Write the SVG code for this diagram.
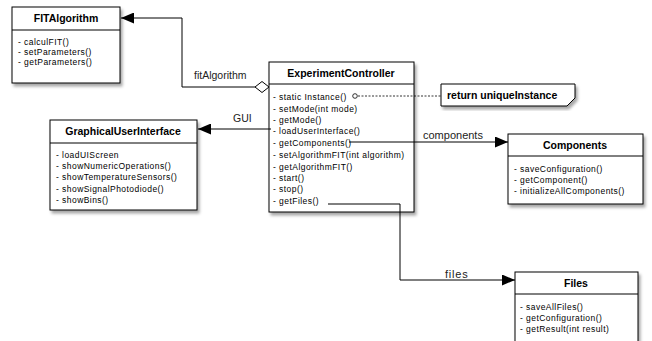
<svg xmlns="http://www.w3.org/2000/svg" width="652" height="341" viewBox="0 0 652 341">
<style>
.box{fill:#fff;stroke:#000;stroke-width:1;filter:url(#sh)}
.div{stroke:#000;stroke-width:1}
.title{font-family:"Liberation Sans",Arial,sans-serif;font-weight:bold;font-size:10.5px;fill:#000;text-anchor:middle}
.item{font-family:"Liberation Sans",Arial,sans-serif;font-size:8.5px;fill:#000;letter-spacing:0.45px}
.lbl{font-family:"Liberation Sans",Arial,sans-serif;font-size:11px;fill:#222}
.conn{fill:none;stroke:#000;stroke-width:1}
</style>
<defs>
<filter id="sh" x="-10%" y="-10%" width="130%" height="130%">
<feDropShadow dx="2" dy="3" stdDeviation="1.8" flood-color="#000" flood-opacity="0.35"/>
</filter>
<marker id="arr" markerWidth="13" markerHeight="11" refX="13" refY="5.5" orient="auto" markerUnits="userSpaceOnUse">
<path d="M0,0 L13,5.5 L0,11 Z" fill="#000"/>
</marker>
</defs>
<rect width="652" height="341" fill="#fff"/>

<g id="FITAlgorithm">
<rect class="box" x="12" y="7" width="108" height="76"/>
<line class="div" x1="12" y1="30" x2="120" y2="30"/>
<text class="title" x="66" y="22">FITAlgorithm</text>
<text class="item" x="18" y="45">- calculFIT()</text>
<text class="item" x="18" y="55">- setParameters()</text>
<text class="item" x="18" y="65">- getParameters()</text>
</g>

<g id="ExperimentController">
<rect class="box" x="269" y="62" width="145" height="150"/>
<line class="div" x1="269" y1="84" x2="414" y2="84"/>
<text class="title" x="341" y="77">ExperimentController</text>
<text class="item" x="273" y="100">- static Instance()</text>
<text class="item" x="273" y="112">- setMode(int mode)</text>
<text class="item" x="273" y="123">- getMode()</text>
<text class="item" x="273" y="134">- loadUserInterface()</text>
<text class="item" x="273" y="146">- getComponents()</text>
<text class="item" x="273" y="158">- setAlgorithmFIT(int algorithm)</text>
<text class="item" x="273" y="170">- getAlgorithmFIT()</text>
<text class="item" x="273" y="181">- start()</text>
<text class="item" x="273" y="192">- stop()</text>
<text class="item" x="273" y="204">- getFiles()</text>
</g>

<g id="note">
<path class="box" d="M441,84 H575 V98 L567,106 H441 Z"/>
<text class="title" x="447" y="99" style="text-anchor:start">return uniqueInstance</text>
</g>

<g id="GraphicalUserInterface">
<rect class="box" x="50" y="120" width="147" height="90"/>
<line class="div" x1="50" y1="143" x2="197" y2="143"/>
<text class="title" x="123" y="135">GraphicalUserInterface</text>
<text class="item" x="56" y="158">- loadUIScreen</text>
<text class="item" x="56" y="169">- showNumericOperations()</text>
<text class="item" x="56" y="180">- showTemperatureSensors()</text>
<text class="item" x="56" y="192">- showSignalPhotodiode()</text>
<text class="item" x="56" y="203">- showBins()</text>
</g>

<g id="Components">
<rect class="box" x="508" y="134" width="135" height="70"/>
<line class="div" x1="508" y1="156" x2="643" y2="156"/>
<text class="title" x="575" y="149">Components</text>
<text class="item" x="514" y="172">- saveConfiguration()</text>
<text class="item" x="514" y="183">- getComponent()</text>
<text class="item" x="514" y="194">- initializeAllComponents()</text>
</g>

<g id="Files">
<rect class="box" x="515" y="272" width="123" height="80"/>
<line class="div" x1="515" y1="294" x2="638" y2="294"/>
<text class="title" x="576" y="287">Files</text>
<text class="item" x="520" y="310">- saveAllFiles()</text>
<text class="item" x="520" y="321">- getConfiguration()</text>
<text class="item" x="520" y="332">- getResult(int result)</text>
</g>

<g id="connectors">
<polyline class="conn" points="255,87 182,87 182,18 121,18" marker-end="url(#arr)"/>
<polygon points="269,87 262,81.5 255,87 262,92.5" fill="#fff" stroke="#000" stroke-width="1"/>
<line class="conn" x1="271" y1="129" x2="198" y2="129" marker-end="url(#arr)"/>
<line class="conn" x1="349" y1="142" x2="508" y2="142" marker-end="url(#arr)"/>
<polyline class="conn" points="328,204 400,204 400,280 515,280" marker-end="url(#arr)"/>
<circle cx="355" cy="96" r="2.3" fill="#fff" stroke="#000" stroke-width="0.8"/>
<line x1="358" y1="96" x2="441" y2="96" stroke="#000" stroke-width="0.8" stroke-dasharray="2,1.5"/>
<text class="lbl" x="194" y="79" style="font-size:10.5px">fitAlgorithm</text>
<text class="lbl" x="233" y="122" style="font-size:10.5px">GUI</text>
<text class="lbl" x="423" y="139">components</text>
<text class="lbl" x="445" y="278" style="letter-spacing:0.8px">files</text>
</g>
</svg>
